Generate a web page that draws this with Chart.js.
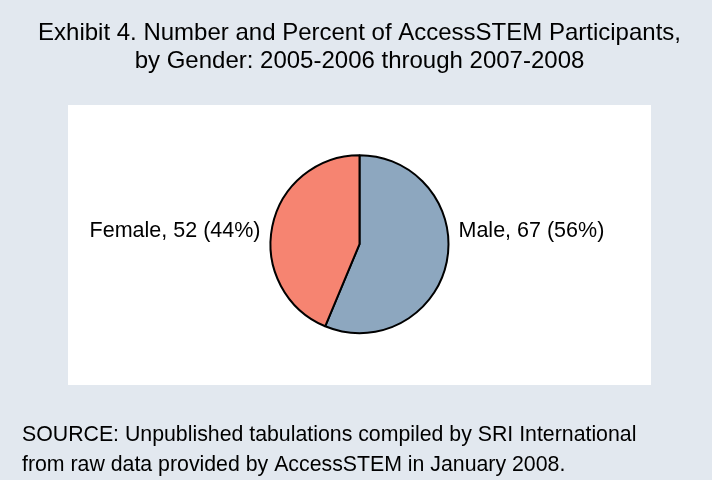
<!DOCTYPE html>
<html>
<head>
<meta charset="utf-8">
<title>AccessSTEM Participants by Gender</title>
<script src="https://cdn.jsdelivr.net/npm/chart.js@4"></script>
<style>
    html, body { margin: 0; padding: 0; background: #E2E8EF; }
    canvas { display: block; }
</style>
</head>
<body>
<canvas id="genderChart" width="712" height="480"></canvas>
<script>
const genders = ['Male', 'Female'];
const participants = [67, 52];
const sliceColors = ['#8DA7BF', '#F68471'];

const titleLines = [
    'Exhibit 4. Number and Percent of AccessSTEM Participants,',
    'by Gender: 2005-2006 through 2007-2008'
];
const sourceLines = [
    'SOURCE: Unpublished tabulations compiled by SRI International',
    'from raw data provided by AccessSTEM in January 2008.'
];

const FONT = '"Liberation Sans", Arial, Helvetica, sans-serif';

// light page background with a white panel behind the pie
const panelBackground = {
    id: 'panelBackground',
    beforeDraw(chart) {
        const ctx = chart.ctx;
        ctx.save();
        ctx.fillStyle = '#E2E8EF';
        ctx.fillRect(0, 0, chart.width, chart.height);
        ctx.fillStyle = '#FFFFFF';
        ctx.fillRect(68, 105, 583, 280);
        ctx.restore();
    }
};

// "Female, 52 (44%)" style labels to the left / right of the pie
const sideLabels = {
    id: 'sideLabels',
    afterDatasetsDraw(chart) {
        const ctx = chart.ctx;
        const meta = chart.getDatasetMeta(0);
        const values = chart.data.datasets[0].data;
        const total = values.reduce((acc, v) => acc + v, 0);

        ctx.save();
        ctx.font = '21.5px ' + FONT;
        ctx.fillStyle = '#000';
        ctx.textBaseline = 'middle';

        meta.data.forEach((arc, i) => {
            const mid = (arc.startAngle + arc.endAngle) / 2;
            const onRight = Math.cos(mid) >= 0;
            const pct = Math.round(values[i] / total * 100);
            const text = `${chart.data.labels[i]}, ${values[i]} (${pct}%)`;
            const gap = 10;

            ctx.textAlign = onRight ? 'left' : 'right';
            const x = onRight ? arc.x + arc.outerRadius + gap : arc.x - arc.outerRadius - gap;
            ctx.fillText(text, x, arc.y - 13);
        });
        ctx.restore();
    }
};

new Chart(document.getElementById('genderChart'), {
    type: 'pie',
    data: {
        labels: genders,
        datasets: [{
            data: participants,
            backgroundColor: sliceColors,
            borderColor: '#000',
            borderWidth: 2,
            radius: 89
        }]
    },
    options: {
        responsive: false,
        animation: false,
        layout: {
            padding: { left: 22, right: 15, top: 0, bottom: 0 }
        },
        plugins: {
            legend: { display: false },
            tooltip: { enabled: false },
            title: {
                display: true,
                text: titleLines,
                color: '#000',
                font: { family: FONT, size: 24, weight: 'normal', lineHeight: 1.1875 },
                padding: { top: 18.75, bottom: 29.25 }
            },
            subtitle: {
                display: true,
                position: 'bottom',
                align: 'start',
                text: sourceLines,
                color: '#000',
                font: { family: FONT, size: 21.3, weight: 'normal', lineHeight: 1.4 },
                padding: { top: 37, bottom: 0 }
            }
        }
    },
    plugins: [panelBackground, sideLabels]
});
</script>
</body>
</html>
